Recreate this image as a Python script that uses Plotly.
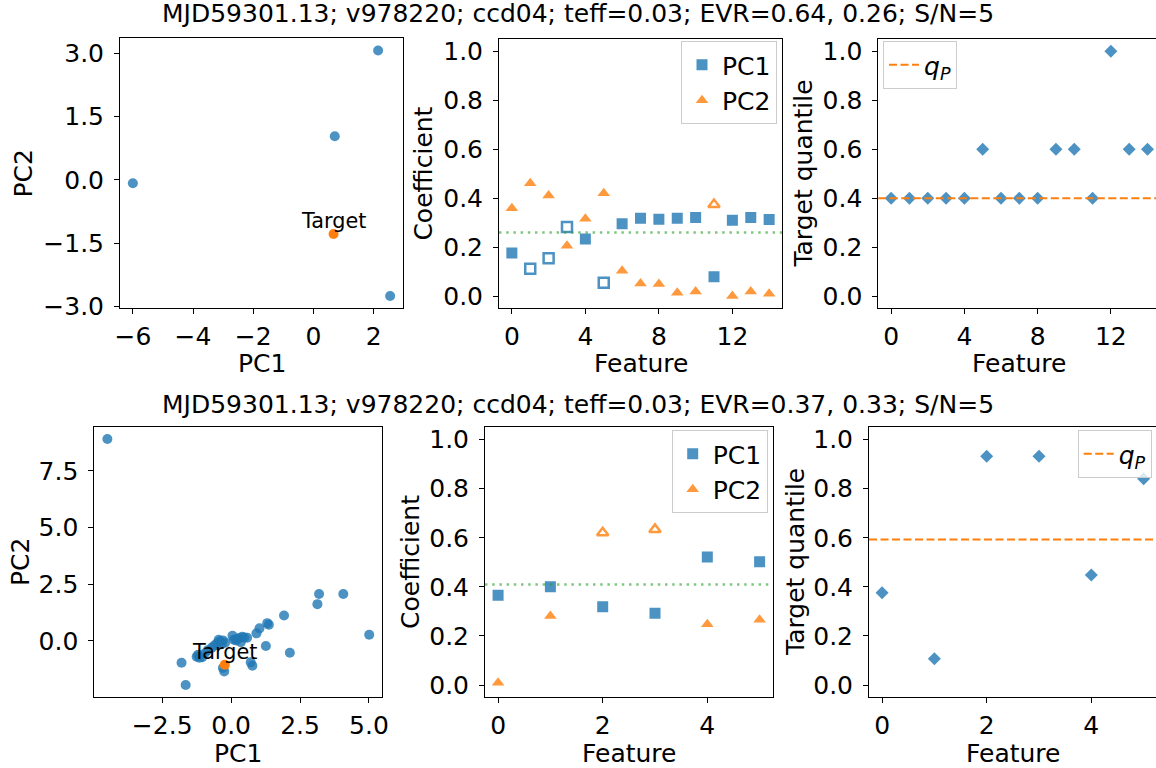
import plotly.graph_objects as go

# ---------------- data ----------------
# Top row
top_title = "MJD59301.13; v978220; ccd04; teff=0.03; EVR=0.64, 0.26; S/N=5"
top_pc_x = [2.15, 0.71, -6.0, 2.55]
top_pc_y = [3.06, 1.03, -0.08, -2.75]
top_target_x = [0.67]
top_target_y = [-1.28]

top_features = list(range(15))
top_pc1 = [0.176, 0.112, 0.154, 0.282, 0.233, 0.054, 0.295, 0.318, 0.314, 0.318, 0.321, 0.079, 0.310, 0.321, 0.313]
top_pc1_open = [False, True, True, True, False, True, False, False, False, False, False, False, False, False, False]
top_pc2 = [0.359, 0.461, 0.411, 0.206, 0.316, 0.420, 0.103, 0.051, 0.049, 0.014, 0.019, 0.374, 0.000, 0.019, 0.009]
top_pc2_open = [False, False, False, False, False, False, False, False, False, False, False, True, False, False, False]
top_threshold = 0.260
top_quantile = [0.4, 0.4, 0.4, 0.4, 0.4, 0.6, 0.4, 0.4, 0.4, 0.6, 0.6, 0.4, 1.0, 0.6, 0.6]
top_qp = 0.4

# Bottom row
bot_title = "MJD59301.13; v978220; ccd04; teff=0.03; EVR=0.37, 0.33; S/N=5"
bot_pc_x = [-4.49, 3.19, 4.07, 3.13, 5.01, 1.92, 1.31, 1.37, 1.03, 0.92, 1.26, 2.13, 0.71, 0.77,
            -1.80, -1.65, -0.30, -0.25,
            -1.25, -1.15, -1.05, -1.20, -0.95, -0.85, -0.70, -0.60, -0.50, -0.40, -0.30, -0.22,
            -0.45, -0.35, 0.05, 0.10, 0.22, 0.30, 0.40, 0.48, 0.58, 0.35, 0.18]
bot_pc_y = [8.91, 2.07, 2.07, 1.62, 0.27, 1.12, 0.78, 0.71, 0.55, 0.33, -0.23, -0.53, -0.95, -1.10,
            -0.97, -1.95, -1.20, -1.35,
            -0.70, -0.75, -0.72, -0.62, -0.55, -0.42, -0.30, -0.20, -0.10, -0.02, 0.02, -0.08,
            0.05, -0.15, 0.22, 0.05, 0.08, 0.12, 0.18, 0.15, 0.14, -0.06, 0.02]
bot_target_x = [-0.23]
bot_target_y = [-1.06]

bot_features = list(range(6))
bot_pc1 = [0.366, 0.400, 0.319, 0.292, 0.522, 0.502]
bot_pc1_open = [False, False, False, False, False, False]
bot_pc2 = [0.009, 0.281, 0.620, 0.634, 0.248, 0.266]
bot_pc2_open = [False, False, True, True, False, False]
bot_threshold = 0.41
bot_quantile = [0.376, 0.107, 0.932, 0.932, 0.448, 0.840]
bot_qp = 0.593

# ---------------- style ----------------
W, H = 1156, 768
FONT = "DejaVu Sans"
BLUE = "#1f77b4"
ORANGE = "#ff7f0e"
GREEN = "rgba(44,160,44,0.6)"
TICK_FS = 25
LABEL_FS = 25
TITLE_FS = 25
TARGET_FS = 20.8


def pad_range(vals, frac=0.05):
    lo, hi = min(vals), max(vals)
    s = hi - lo
    return [lo - frac * s, hi + frac * s]


def sel(vals, flags, want):
    return [v for v, f in zip(vals, flags) if f == want]


fig = go.Figure()

# panel pixel boxes: (left, right, top, bottom)
boxes = {
    1: (120.0, 403.0, 38.3, 308.3),
    2: (499.0, 782.0, 39.0, 308.3),
    3: (878.3, 1160.3, 39.0, 308.3),
    4: (94.3, 382.3, 426.7, 697.3),
    5: (485.0, 772.7, 427.3, 697.3),
    6: (869.0, 1156.7, 427.3, 697.3),
}


def dom(i):
    l, r, t, b = boxes[i]
    return [l / W, min(r / W, 1.0)], [1 - b / H, 1 - t / H]


def clipped_range(i, full):
    l, r, t, b = boxes[i]
    if r <= W:
        return full
    frac = (W - l) / (r - l)
    return [full[0], full[0] + (full[1] - full[0]) * frac]


def fmt(v, nd):
    s = f"{abs(v):.{nd}f}"
    return ("\u2212" + s) if v < 0 else s


def axis_common():
    return dict(showgrid=False, zeroline=False, showline=True, linecolor="black", linewidth=1,
                ticks="outside", ticklen=5, tickwidth=1, tickcolor="black",
                tickfont=dict(family=FONT, size=TICK_FS, color="black"))


ranges = {
    1: (pad_range(top_pc_x + top_target_x), pad_range(top_pc_y + top_target_y)),
    2: ([-0.7, 14.7], [-0.05, 1.05]),
    3: ([-0.7, 14.7], [-0.05, 1.05]),
    4: (pad_range(bot_pc_x + bot_target_x), pad_range(bot_pc_y + bot_target_y)),
    5: ([-0.25, 5.25], [-0.05, 1.05]),
    6: ([-0.25, 5.25], [-0.05, 1.05]),
}
xticks = {1: ([-6, -4, -2, 0, 2], 0), 2: ([0, 4, 8, 12], 0), 3: ([0, 4, 8, 12], 0),
          4: ([-2.5, 0.0, 2.5, 5.0], 1), 5: ([0, 2, 4], 0), 6: ([0, 2, 4], 0)}
q_ticks = [0.0, 0.2, 0.4, 0.6, 0.8, 1.0]
yticks = {1: ([-3.0, -1.5, 0.0, 1.5, 3.0], 1), 2: (q_ticks, 1), 3: (q_ticks, 1),
          4: ([0.0, 2.5, 5.0, 7.5], 1), 5: (q_ticks, 1), 6: (q_ticks, 1)}

layout_axes = {}
for i in range(1, 7):
    xd, yd = dom(i)
    xr, yr = ranges[i]
    xa = axis_common()
    xa.update(domain=xd, range=clipped_range(i, xr), anchor=f"y{i}", mirror=True,
              ticklabelstandoff=1,
              tickvals=xticks[i][0], ticktext=[fmt(v, xticks[i][1]) for v in xticks[i][0]])
    ya = axis_common()
    ya.update(domain=yd, range=yr, anchor=f"x{i}", mirror=(i not in (3, 6)),
              ticklabelstandoff=5,
              tickvals=yticks[i][0], ticktext=[fmt(v, yticks[i][1]) for v in yticks[i][0]])
    layout_axes[f"xaxis{i}"] = xa
    layout_axes[f"yaxis{i}"] = ya

# ---------------- traces ----------------
def scatter_panel(i, xs, ys, tx, ty):
    fig.add_trace(go.Scatter(x=xs, y=ys, mode="markers", xaxis=f"x{i}", yaxis=f"y{i}",
                             marker=dict(color=BLUE, size=10, opacity=0.8, line=dict(width=0)),
                             showlegend=False, hoverinfo="skip"))
    fig.add_trace(go.Scatter(x=tx, y=ty, mode="markers", xaxis=f"x{i}", yaxis=f"y{i}",
                             marker=dict(color=ORANGE, size=10, line=dict(width=0)),
                             showlegend=False, hoverinfo="skip"))
    fig.add_annotation(x=tx[0], y=ty[0], xref=f"x{i}", yref=f"y{i}", text="Target",
                       showarrow=False, xanchor="center", yanchor="bottom", yshift=-1,
                       font=dict(family=FONT, size=TARGET_FS, color="black"))


def coef_panel(i, feats, pc1, pc1_open, pc2, pc2_open, thr, legend):
    fig.add_trace(go.Scatter(x=sel(feats, pc1_open, False), y=sel(pc1, pc1_open, False),
                             mode="markers", name="PC1", legend=legend, xaxis=f"x{i}", yaxis=f"y{i}",
                             marker=dict(symbol="square", color=BLUE, size=11, opacity=0.8, line=dict(width=0))))
    fig.add_trace(go.Scatter(x=sel(feats, pc1_open, True), y=sel(pc1, pc1_open, True),
                             mode="markers", showlegend=False, xaxis=f"x{i}", yaxis=f"y{i}",
                             marker=dict(symbol="square-open", color=BLUE, size=10, opacity=0.8,
                                         line=dict(width=2.5))))
    fig.add_trace(go.Scatter(x=sel(feats, pc2_open, False), y=sel(pc2, pc2_open, False),
                             mode="markers", name="PC2", legend=legend, xaxis=f"x{i}", yaxis=f"y{i}",
                             marker=dict(symbol="triangle-up", color=ORANGE, size=11, opacity=0.8, line=dict(width=0))))
    fig.add_trace(go.Scatter(x=sel(feats, pc2_open, True), y=sel(pc2, pc2_open, True),
                             mode="markers", showlegend=False, xaxis=f"x{i}", yaxis=f"y{i}",
                             marker=dict(symbol="triangle-up-open", color=ORANGE, size=10, opacity=0.8,
                                         line=dict(width=2.5))))
    fig.add_shape(type="line", xref=f"x{i} domain", x0=0, x1=1, yref=f"y{i}", y0=thr, y1=thr,
                  line=dict(color=GREEN, width=2.5, dash="2.5px,4.7px"), layer="above")


def quant_panel(i, feats, q, qp, legend):
    fig.add_trace(go.Scatter(x=feats, y=q, mode="markers", showlegend=False, xaxis=f"x{i}", yaxis=f"y{i}",
                             marker=dict(symbol="diamond", color=BLUE, size=10, opacity=0.8, line=dict(width=0))))
    fig.add_shape(type="line", xref=f"x{i} domain", x0=0, x1=1, yref=f"y{i}", y0=qp, y1=qp,
                  line=dict(color=ORANGE, width=2, dash="8px,3.5px"), layer="above",
                  showlegend=True, legend=legend, name="<i>q</i><sub><i>P</i></sub>")


scatter_panel(1, top_pc_x, top_pc_y, top_target_x, top_target_y)
coef_panel(2, top_features, top_pc1, top_pc1_open, top_pc2, top_pc2_open, top_threshold, "legend")
quant_panel(3, top_features, top_quantile, top_qp, "legend2")
scatter_panel(4, bot_pc_x, bot_pc_y, bot_target_x, bot_target_y)
coef_panel(5, bot_features, bot_pc1, bot_pc1_open, bot_pc2, bot_pc2_open, bot_threshold, "legend3")
quant_panel(6, bot_features, bot_quantile, bot_qp, "legend4")

# ---------------- text ----------------
def paper_text(text, xpx, ypx, size=LABEL_FS, angle=0):
    fig.add_annotation(text=text, x=xpx / W, y=1 - ypx / H, xref="paper", yref="paper",
                       showarrow=False, xanchor="center", yanchor="middle", textangle=angle,
                       font=dict(family=FONT, size=size, color="black"))

paper_text(top_title, 578, 13.5, size=TITLE_FS)
paper_text(bot_title, 578, 404.0, size=TITLE_FS)
# x axis titles
paper_text("PC1", 261.5, 364.0)
paper_text("Feature", 640.5, 364.0)
paper_text("Feature", 1019, 364.0)
paper_text("PC1", 238.3, 753.5)
paper_text("Feature", 628.8, 753.5)
paper_text("Feature", 1012.8, 753.5)
# y axis titles
paper_text("PC2", 23.3, 173.3, angle=-90)
paper_text("Coefficient", 423.3, 173.3, angle=-90)
paper_text("Target quantile", 803.3, 173.3, angle=-90)
paper_text("PC2", 20.0, 562.0, angle=-90)
paper_text("Coefficient", 410.0, 562.0, angle=-90)
paper_text("Target quantile", 795.0, 562.0, angle=-90)

legend_style = dict(bgcolor="rgba(255,255,255,0.8)", bordercolor="#cccccc", borderwidth=1,
                    font=dict(family=FONT, size=25, color="black"), yanchor="top")

fig.update_layout(
    width=W, height=H, autosize=False,
    margin=dict(l=0, r=0, t=0, b=0, autoexpand=False),
    paper_bgcolor="white", plot_bgcolor="white",
    font=dict(family=FONT, size=25, color="black"),
    showlegend=True,
    legend=dict(x=777 / W, xanchor="right", y=1 - 41 / H, **legend_style),
    legend2=dict(x=883 / W, xanchor="left", y=1 - 41 / H, **legend_style),
    legend3=dict(x=767.7 / W, xanchor="right", y=1 - 430 / H, **legend_style),
    legend4=dict(x=1151.7 / W, xanchor="right", y=1 - 430 / H, **legend_style),
    **layout_axes,
)

fig.write_html("out.html")
